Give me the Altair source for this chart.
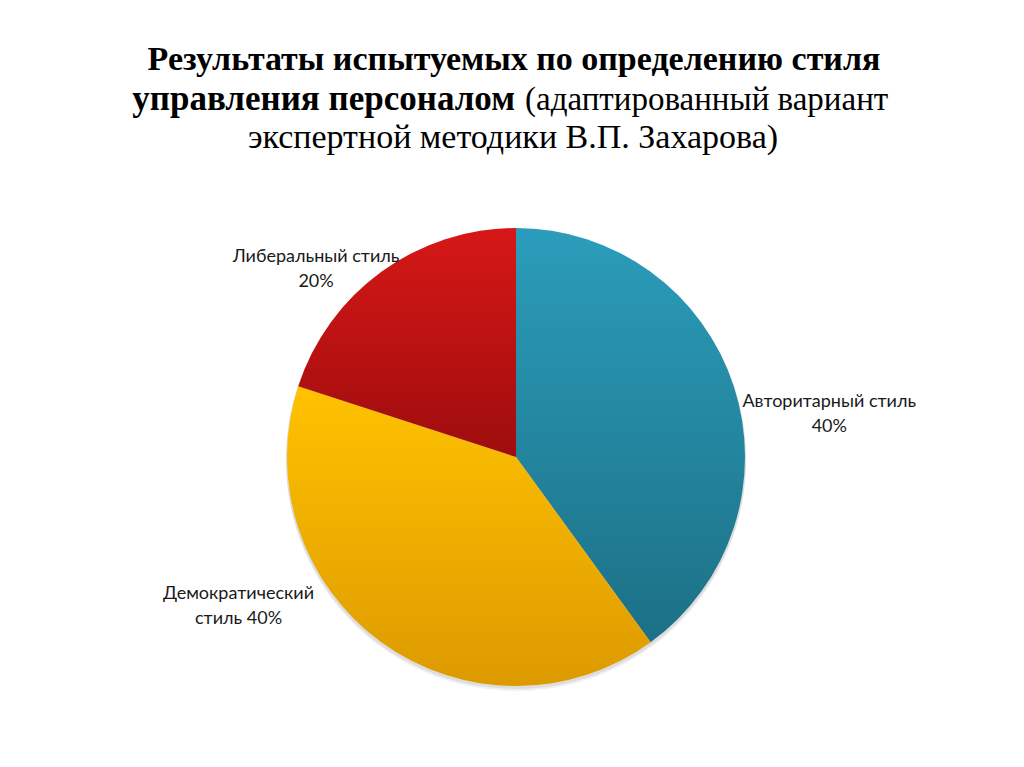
import altair as alt
import pandas as pd

categories = ["Авторитарный стиль", "Демократический стиль", "Либеральный стиль"]
values = [40, 40, 20]
labels = ["Авторитарный стиль\n40%", "Демократический\nстиль 40%", "Либеральный стиль\n20%"]
order = [0, 1, 2]

title_line1 = "Результаты испытуемых по определению стиля"
title_line2_bold = "управления персоналом"
title_line2_regular = "(адаптированный вариант"
title_line3 = "экспертной методики В.П. Захарова)"

df = pd.DataFrame({"cat": categories, "value": values, "label": labels, "order": order})

CX, CY, R = 508, 449, 229
W, H = 1008, 750

def grad(top, bottom):
    return {
        "gradient": "linear",
        "x1": 0, "y1": 0, "x2": 0, "y2": 1,
        "stops": [{"offset": 0, "color": top}, {"offset": 1, "color": bottom}],
    }

fills = {
    categories[0]: grad("#2b9dbb", "#1c7085"),
    categories[1]: grad("#ffc200", "#dd9a00"),
    categories[2]: grad("#d71717", "#9e0d0d"),
}

label_pos = {
    categories[0]: dict(radius=300, dx=28, dy=38),
    categories[1]: dict(radius=290, dx=-107, dy=-98),
    categories[2]: dict(radius=250, dx=-53, dy=2),
}

theta_scale = alt.Scale(domain=[0, 100])

base = (
    alt.Chart(df)
    .transform_window(cum="sum(value)", sort=[{"field": "order"}], frame=[None, 0])
    .transform_calculate(start="datum.cum - datum.value", mid="datum.cum - datum.value / 2")
)

layers = []

# soft shadow
for off, op in [(4, 0.06), (2, 0.08)]:
    layers.append(
        base.transform_filter(alt.datum.order == 0)
        .mark_arc(radius=R + 1, theta=0, theta2=6.2832, fill="#000000", opacity=op)
        .encode(x=alt.value(CX), y=alt.value(CY + off))
    )

for c in categories:
    layers.append(
        base.transform_filter(alt.datum.cat == c)
        .mark_arc(radius=R, fill=fills[c])
        .encode(
            theta=alt.Theta("start:Q", scale=theta_scale),
            theta2="cum:Q",
            x=alt.value(CX),
            y=alt.value(CY),
        )
    )

for c in categories:
    p = label_pos[c]
    layers.append(
        base.transform_filter(alt.datum.cat == c)
        .mark_text(
            radius=p["radius"], dx=p["dx"], dy=p["dy"],
            font="Lato", fontSize=18, color="#1a1a1a",
            lineBreak="\n", lineHeight=25, align="center", baseline="middle",
        )
        .encode(
            theta=alt.Theta("mid:Q", scale=theta_scale),
            text="label:N",
            x=alt.value(CX),
            y=alt.value(CY),
        )
    )

def title_text(txt, x, y, bold, align, size=34):
    return (
        alt.Chart(pd.DataFrame({"t": [txt]}))
        .mark_text(
            font="Liberation Serif", fontSize=size,
            fontWeight="bold" if bold else "normal",
            color="#000000", align=align, baseline="alphabetic",
        )
        .encode(text="t:N", x=alt.value(x), y=alt.value(y))
    )

layers.append(title_text(title_line1, 506, 62, True, "center"))
layers.append(title_text(title_line2_bold, 507, 102, True, "right", 35))
layers.append(title_text(title_line2_regular, 517, 102, False, "left", 33))
layers.append(title_text(title_line3, 505, 140, False, "center"))

chart = (
    alt.layer(*layers)
    .properties(width=W, height=H, padding=0, autosize=alt.AutoSizeParams(type="none"))
    .configure_view(stroke=None)
)

chart.save("out.html", embed_options={"renderer": "svg", "actions": False})
